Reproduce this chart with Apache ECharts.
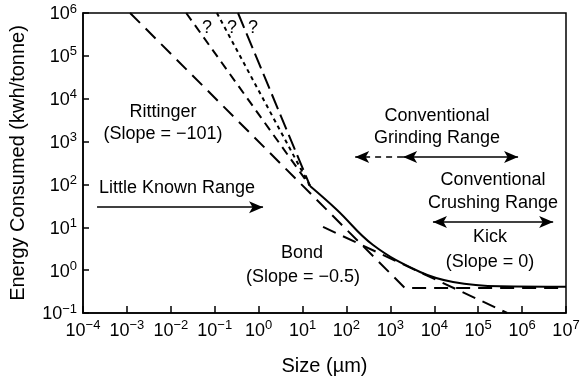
<!DOCTYPE html>
<html>
<head>
<meta charset="utf-8">
<script src="https://cdn.jsdelivr.net/npm/echarts@6/dist/echarts.min.js"></script>
<style>
  html, body { margin: 0; padding: 0; background: #fff; }
  #main { width: 581px; height: 378px; }
</style>
</head>
<body>
<div id="main"></div>
<script>
// tick exponents and their superscript labels
const xExp = [-4, -3, -2, -1, 0, 1, 2, 3, 4, 5, 6, 7];
const xTickSup = ["−4", "−3", "−2", "−1", "0", "1", "2", "3", "4", "5", "6", "7"];
const yExp = [-1, 0, 1, 2, 3, 4, 5, 6];
const yTickSup = ["−1", "0", "1", "2", "3", "4", "5", "6"];

// Rittinger (slope -1) turning into Kick (slope 0)
const rittingerX = [0.00118, 2140, 1e7];
const rittingerY = [1e6, 0.384, 0.384];
// Bond (slope -0.5)
const bondX = [29.3, 457000];
const bondY = [10.2, 0.1];
// the three "?" extrapolations
const q1X = [0.0224, 14.8];
const q1Y = [1e6, 92];
const q2X = [0.112, 14.8];
const q2Y = [1e6, 92];
const q3X = [0.339, 14.8];
const q3Y = [1e6, 92];
// measured curve
const curveX = [14.8, 61.1, 404, 4750, 26800, 315000, 1e7];
const curveY = [92, 25.4, 3.86, 0.906, 0.53, 0.42, 0.41];

// range arrows [x1, x2, y]
const littleKnown = [0.000209, 1.26, 29.5];
const grindingDashed = [1950, 158, 437];
const grindingSolid = [1950, 810000, 437];
const crushing = [9330, 5100000, 13.2];

const FONT = "Liberation Sans, Arial, Helvetica, sans-serif";
const pair = (xs, ys) => xs.map((x, i) => [x, ys[i]]);

const chart = echarts.init(document.getElementById("main"), null, { renderer: "canvas" });

function dashed(name, xs, ys, dash) {
  return {
    name: name,
    type: "line",
    data: pair(xs, ys),
    symbol: "none",
    silent: true,
    lineStyle: { color: "#000", width: 2, type: dash },
  };
}

function arrow(a, ends, dash) {
  return [
    {
      coord: [a[0], a[2]],
      symbol: ends[0],
      lineStyle: { color: "#000", width: 1.6, type: dash || "solid" },
    },
    { coord: [a[1], a[2]], symbol: ends[1] },
  ];
}

function text(str, x, y, align) {
  return {
    type: "text",
    x: x,
    y: y,
    silent: true,
    style: {
      text: str,
      fill: "#000",
      font: "18px " + FONT,
      textAlign: align || "center",
      textVerticalAlign: "middle",
    },
  };
}

const rich = {
  b: { fontSize: 18, lineHeight: 21, fontFamily: FONT, color: "#000", verticalAlign: "bottom" },
  s: { fontSize: 13, lineHeight: 13, fontFamily: FONT, color: "#000", verticalAlign: "top" },
};

const option = {
  animation: false,
  backgroundColor: "#fff",
  grid: {
    left: 83,
    right: 15,
    top: 13,
    bottom: 65,
    containLabel: false,
    outerBoundsMode: "none",
    show: true,
    borderColor: "#000",
    borderWidth: 1.5,
  },
  xAxis: {
    type: "log",
    logBase: 10,
    min: 1e-4,
    max: 1e7,
    interval: 1,
    name: "Size (µm)",
    nameLocation: "middle",
    nameGap: 43,
    nameTextStyle: { fontSize: 20, fontFamily: FONT, color: "#000" },
    axisLine: { lineStyle: { color: "#000", width: 1.5 } },
    axisTick: { inside: true, length: 7, lineStyle: { color: "#000", width: 1.5 } },
    minorTick: { show: false },
    splitLine: { show: false },
    axisLabel: {
      margin: 6,
      fontSize: 18,
      color: "#000",
      fontFamily: FONT,
      formatter: function (v) {
        const i = xExp.indexOf(Math.round(Math.log10(v)));
        return "{b|10}{s|" + xTickSup[i] + "}";
      },
      rich: rich,
    },
  },
  yAxis: {
    type: "log",
    logBase: 10,
    min: 0.1,
    max: 1e6,
    interval: 1,
    name: "Energy Consumed (kwh/tonne)",
    nameLocation: "middle",
    nameGap: 55,
    nameTextStyle: { fontSize: 20, fontFamily: FONT, color: "#000" },
    axisLine: { lineStyle: { color: "#000", width: 1.5 } },
    axisTick: { inside: true, length: 6, lineStyle: { color: "#000", width: 1.5 } },
    minorTick: { show: false },
    splitLine: { show: false },
    axisLabel: {
      margin: 6,
      fontSize: 18,
      color: "#000",
      fontFamily: FONT,
      formatter: function (v) {
        const i = yExp.indexOf(Math.round(Math.log10(v)));
        return "{b|10}{s|" + yTickSup[i] + "}";
      },
      rich: rich,
    },
  },
  series: [
    dashed("Rittinger / Kick", rittingerX, rittingerY, [14, 8]),
    dashed("Bond", bondX, bondY, [14, 8]),
    dashed("?1", q1X, q1Y, [9, 6]),
    dashed("?2", q2X, q2Y, [4, 4]),
    dashed("?3", q3X, q3Y, [16, 6]),
    {
      name: "curve",
      type: "line",
      data: pair(curveX, curveY),
      symbol: "none",
      smooth: 0.4,
      silent: true,
      lineStyle: { color: "#000", width: 2 },
    },
    {
      name: "ranges",
      type: "line",
      data: [],
      silent: true,
      markLine: {
        silent: true,
        animation: false,
        symbolSize: [9, 14],
        label: { show: false },
        lineStyle: { color: "#000", width: 1.6 },
        data: [
          arrow(littleKnown, ["none", "arrow"]),
          arrow(grindingDashed, ["none", "arrow"], [6, 5]),
          arrow(grindingSolid, ["arrow", "arrow"]),
          arrow(crushing, ["arrow", "arrow"]),
        ],
      },
    },
  ],
  graphic: [
    text("?", 207, 28),
    text("?", 232, 28),
    text("?", 253, 28),
    text("Rittinger", 163, 112),
    text("(Slope = −101)", 163, 134),
    text("Little Known Range", 99, 188, "left"),
    text("Conventional", 437, 116),
    text("Grinding Range", 437, 138),
    text("Conventional", 493, 180),
    text("Crushing Range", 493, 203),
    text("Kick", 490, 237),
    text("(Slope = 0)", 490, 262),
    text("Bond", 302, 253),
    text("(Slope = −0.5)", 303, 277),
  ],
};

chart.setOption(option);
</script>
</body>
</html>
